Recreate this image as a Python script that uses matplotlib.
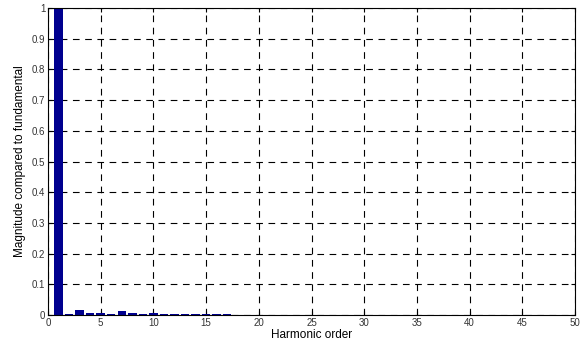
import numpy as np
import matplotlib.pyplot as plt

# harmonic spectrum, normalised to the fundamental
orders = np.arange(0, 51)
mags = [0.0, 1.0, 0.003, 0.015, 0.006, 0.008, 0.003, 0.012, 0.005, 0.003,
        0.005, 0.002, 0.002, 0.002, 0.002, 0.002, 0.002, 0.002, 0.001, 0.001,
        0.001, 0.001, 0.001, 0.001, 0.001, 0.001, 0.001, 0.001, 0.001, 0.001,
        0.001, 0.001, 0.001, 0.001, 0.001, 0.001, 0.001, 0.001, 0.001, 0.001,
        0.001, 0.001, 0.001, 0.001, 0.001, 0.001, 0.001, 0.001, 0.001, 0.001,
        0.001]
xticks = np.arange(0, 51, 5)
yticks = np.round(np.arange(0, 1.01, 0.1), 1)

plt.rcParams['font.family'] = ['Liberation Sans', 'DejaVu Sans']

fig = plt.figure(figsize=(5.8, 3.43), dpi=100)
ax = fig.add_axes([48 / 580, 1 - 315 / 343, 527 / 580, 307 / 343])

ax.bar(orders, mags, width=0.8, color='#00008f')
ax.set_xlim(0, 50)
ax.set_ylim(0, 1)
ax.set_xticks(xticks)
ax.set_yticks(yticks)
ax.set_yticklabels([('%g' % v) for v in yticks])
ax.tick_params(direction='in', top=True, right=True, labelsize=7, length=3, pad=2,
               labelcolor='#333333')
ax.grid(True, color='black', linestyle=(0, (6, 5)), linewidth=0.8)
ax.set_axisbelow(True)
for s in ax.spines.values():
    s.set_linewidth(0.8)

ax.set_xlabel('Harmonic order', fontsize=8.5, labelpad=1)
ax.set_ylabel('Magnitude compared to fundamental', fontsize=8.5, labelpad=4)

fig.savefig('out.png', dpi=100)
